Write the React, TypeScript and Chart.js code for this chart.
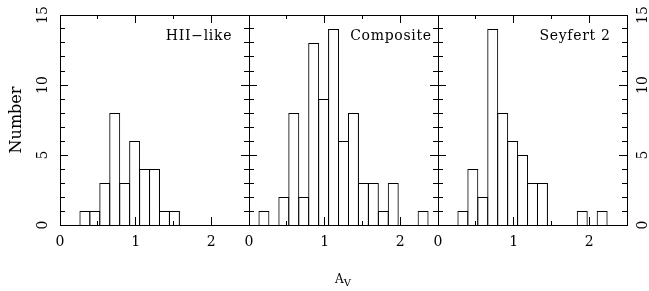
import React, { useEffect, useRef } from 'react';
import { Chart, registerables } from 'chart.js';

Chart.register(...registerables);

// ---- data ----
const BIN_WIDTH = 0.1316; // A_V bin width
const X_LABEL_TICKS = [0, 1, 2];
const X_MAJOR_TICKS = [1, 2];
const X_MINOR_TICKS = [0.5, 1.5];
const Y_LABEL_TICKS = [0, 5, 10, 15];
const Y_MAJOR_TICKS = [5, 10];
const Y_MINOR_TICKS = [1, 2, 3, 4, 6, 7, 8, 9, 11, 12, 13, 14];
const PANEL_NAMES = ['HII\u2212like', 'Composite', 'Seyfert 2'];
const HII_COUNTS = [0, 0, 1, 1, 3, 8, 3, 6, 4, 4, 1, 1, 0, 0, 0, 0, 0, 0, 0];
const COMPOSITE_COUNTS = [0, 1, 0, 2, 8, 2, 13, 9, 14, 6, 8, 3, 3, 1, 3, 0, 0, 1, 0];
const SEYFERT_COUNTS = [0, 0, 1, 4, 2, 14, 8, 6, 5, 3, 3, 0, 0, 0, 1, 0, 1, 0, 0];
const X_MIN = 0;
const X_MAX = 2.5;
const Y_MIN = 0;
const Y_MAX = 15;
const Y_TITLE = 'Number';

// ---- layout / style ----
const W = 649;
const H = 291;
const FONT = 'DejaVu Serif';
const INK = '#000';

const PANELS = [
  { counts: HII_COUNTS, name: PANEL_NAMES[0], padLeft: 0, padRight: 400, yW: 60, yRW: 0, leftLabels: true, rightLabels: false, nameDx: 50 },
  { counts: COMPOSITE_COUNTS, name: PANEL_NAMES[1], padLeft: 249, padRight: 211, yW: 0, yRW: 0, leftLabels: false, rightLabels: false, nameDx: 47 },
  { counts: SEYFERT_COUNTS, name: PANEL_NAMES[2], padLeft: 438, padRight: 0, yW: 0, yRW: 22, leftLabels: false, rightLabels: true, nameDx: 52 },
];

const namePlugin = {
  id: 'panelName',
  afterDraw(chart: any, _args: any, opts: any) {
    const { ctx, chartArea } = chart;
    ctx.save();
    ctx.font = `14px "${FONT}"`;
    ctx.fillStyle = INK;
    ctx.textAlign = 'center';
    ctx.textBaseline = 'middle';
    try {
      (ctx as any).letterSpacing = '0.7px';
    } catch (e) {}
    ctx.fillText(opts.text, chartArea.right - opts.dx, chartArea.top + 21);
    ctx.restore();
  },
};

function zeroPad(s: any) {
  s.paddingTop = 0;
  s.paddingBottom = 0;
  s.paddingLeft = 0;
  s.paddingRight = 0;
}

function tickAxis(axis: 'x' | 'y', position: any, ticks: number[], len: number) {
  return {
    type: 'linear',
    axis,
    position,
    min: axis === 'x' ? X_MIN : Y_MIN,
    max: axis === 'x' ? X_MAX : Y_MAX,
    offset: false,
    ticks: { display: false },
    grid: {
      display: true,
      drawOnChartArea: false,
      drawTicks: true,
      tickLength: len,
      color: INK,
      tickColor: INK,
      tickWidth: 1,
      offset: false,
    },
    border: { display: false },
    afterBuildTicks: (s: any) => {
      s.ticks = ticks.map((v) => ({ value: v }));
    },
    afterFit: (s: any) => {
      if (axis === 'x') s.height = 0;
      else s.width = 0;
      zeroPad(s);
    },
  };
}

function Panel({ idx }: { idx: number }) {
  const ref = useRef<HTMLCanvasElement | null>(null);
  useEffect(() => {
    const p = PANELS[idx];
    const data = p.counts.map((c, i) => ({ x: (i + 0.5) * BIN_WIDTH, y: c }));
    const tickFont = { family: FONT, size: 14 };
    const chart = new Chart(ref.current as HTMLCanvasElement, {
      type: 'bar',
      data: {
        datasets: [
          {
            data,
            xAxisID: 'x',
            yAxisID: 'y',
            backgroundColor: 'rgba(0,0,0,0)',
            borderColor: INK,
            borderWidth: 1,
            borderSkipped: 'start',
            barPercentage: 1.1,
            categoryPercentage: 1,
            inflateAmount: 0,
          } as any,
        ],
      },
      options: {
        animation: false,
        responsive: false,
        devicePixelRatio: 1,
        events: [],
        layout: { padding: { left: p.padLeft, right: p.padRight, top: 15, bottom: 36 } },
        plugins: {
          legend: { display: false },
          tooltip: { enabled: false },
          panelName: { text: p.name, dx: p.nameDx },
        } as any,
        scales: {
          x: {
            type: 'linear',
            position: 'bottom',
            min: X_MIN,
            max: X_MAX,
            offset: false,
            grid: { display: false, drawTicks: false, offset: false },
            border: { display: true, color: INK, width: 1 },
            ticks: {
              display: true,
              color: INK,
              font: tickFont,
              padding: 9,
              autoSkip: false,
              maxRotation: 0,
              minRotation: 0,
            },
            afterBuildTicks: (s: any) => {
              s.ticks = X_LABEL_TICKS.map((v) => ({ value: v }));
            },
            afterFit: (s: any) => {
              s.height = 30;
              zeroPad(s);
            },
          },
          y: {
            type: 'linear',
            position: 'left',
            min: Y_MIN,
            max: Y_MAX,
            grid: { display: false, drawTicks: false },
            border: { display: true, color: INK, width: 1 },
            ticks: {
              display: p.leftLabels,
              color: INK,
              font: tickFont,
              padding: 8,
              minRotation: 90,
              maxRotation: 90,
              crossAlign: 'center',
              autoSkip: false,
            },
            title: {
              display: p.leftLabels,
              text: Y_TITLE,
              color: INK,
              font: { family: FONT, size: 16 },
              padding: { top: 7, bottom: 0 },
            },
            afterBuildTicks: (s: any) => {
              s.ticks = Y_LABEL_TICKS.map((v) => ({ value: v }));
            },
            afterFit: (s: any) => {
              s.width = p.yW;
              zeroPad(s);
            },
          },
          yR: {
            type: 'linear',
            axis: 'y',
            position: 'right',
            min: Y_MIN,
            max: Y_MAX,
            grid: { display: false, drawTicks: false },
            border: { display: true, color: INK, width: 1 },
            ticks: {
              display: p.rightLabels,
              color: INK,
              font: tickFont,
              padding: 7,
              minRotation: 90,
              maxRotation: 90,
              crossAlign: 'center',
              autoSkip: false,
            },
            afterBuildTicks: (s: any) => {
              s.ticks = Y_LABEL_TICKS.map((v) => ({ value: v }));
            },
            afterFit: (s: any) => {
              s.width = p.yRW;
              zeroPad(s);
            },
          },
          xT: {
            type: 'linear',
            axis: 'x',
            position: 'top',
            min: X_MIN,
            max: X_MAX,
            offset: false,
            grid: { display: false, drawTicks: false },
            border: { display: true, color: INK, width: 1 },
            ticks: { display: false },
            afterFit: (s: any) => {
              s.height = 0;
              zeroPad(s);
            },
          },
          xMajB: tickAxis('x', { y: Y_MIN }, X_MAJOR_TICKS, -8),
          xMinB: tickAxis('x', { y: Y_MIN }, X_MINOR_TICKS, -4),
          xMajT: tickAxis('x', { y: Y_MAX }, X_MAJOR_TICKS, 8),
          xMinT: tickAxis('x', { y: Y_MAX }, X_MINOR_TICKS, 4),
          yMajL: tickAxis('y', { x: X_MIN }, Y_MAJOR_TICKS, -8),
          yMinL: tickAxis('y', { x: X_MIN }, Y_MINOR_TICKS, -5),
          yMajR: tickAxis('y', { x: X_MAX }, Y_MAJOR_TICKS, 8),
          yMinR: tickAxis('y', { x: X_MAX }, Y_MINOR_TICKS, 5),
        } as any,
      },
      plugins: [namePlugin],
    } as any);
    return () => chart.destroy();
  }, [idx]);
  return (
    <canvas
      ref={ref}
      width={W}
      height={H}
      style={{ position: 'absolute', left: 0, top: 0, width: W, height: H }}
    />
  );
}

export default function App() {
  return (
    <div style={{ position: 'fixed', left: 0, top: 0, width: W, height: H, background: '#fff', overflow: 'hidden' }}>
      <Panel idx={0} />
      <Panel idx={1} />
      <Panel idx={2} />
      <div
        style={{
          position: 'absolute',
          left: 335,
          top: 272,
          fontFamily: FONT,
          fontSize: 12,
          color: INK,
          lineHeight: '14px',
          whiteSpace: 'nowrap',
        }}
      >
        A<sub style={{ fontSize: 10 }}>V</sub>
      </div>
    </div>
  );
}
